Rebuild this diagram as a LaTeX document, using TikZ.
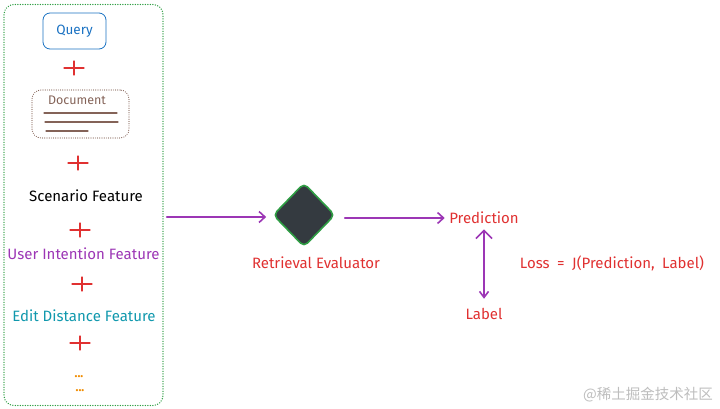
\documentclass[tikz,border=0pt]{standalone}
\usepackage{fontspec}
\setmainfont{Fira Sans}
\newfontfamily\cjkfont{Noto Sans CJK SC}
\usetikzlibrary{arrows.meta,shapes.geometric,positioning}
\definecolor{queryblue}{HTML}{1971C2}
\definecolor{docbrown}{HTML}{846358}
\definecolor{boxgreen}{HTML}{2F9E44}
\definecolor{plusred}{HTML}{E03131}
\definecolor{flowpurple}{HTML}{9C36B5}
\definecolor{featteal}{HTML}{1098AD}
\definecolor{dotorange}{HTML}{F08C00}
\definecolor{evalgray}{HTML}{343A40}
\definecolor{markgray}{HTML}{BDBDBD}
\tikzset{
  every picture/.style={
    line join=round,
    line cap=round,
  },
  every node/.style={font=\fontsize{15}{17}\selectfont},
  featurebox/.style={draw=boxgreen, line width=1.4pt, dash pattern=on 0.1pt off 2.4pt,
    rounded corners=10pt, inner sep=0pt},
  querybox/.style={draw=queryblue, line width=0.8pt, rounded corners=7pt,
    minimum width=63, minimum height=36, text=queryblue, font=\fontsize{13.5}{15}\selectfont},
  docbox/.style={draw=docbrown, line width=1.1pt, dash pattern=on 0.1pt off 2.1pt,
    rounded corners=9pt, minimum width=97, minimum height=48, inner sep=0pt},
  docline/.style={docbrown, line width=1.3pt},
  plusmark/.style={plusred, line width=1.3pt},
  flow/.style={flowpurple, line width=1.6pt},
  evaluator/.style={diamond, fill=evalgray, draw=boxgreen, line width=1.6pt,
    rounded corners=5pt, minimum width=62, minimum height=64, inner sep=0pt},
  moredots/.style={text=dotorange, anchor=base, font=\bfseries\fontsize{12}{14}\selectfont},
}

\begin{document}
\begin{tikzpicture}[x=1pt, y=-1pt, >={Straight Barb[length=6pt,width=11pt]}]
    \useasboundingbox (0,0) rectangle (720,409);

    % Feature container
    \node[featurebox, minimum width=159, minimum height=401] (features) at (83.5,205) {};

    % Query and document
    \node[querybox] (query) at (74.5,31) {Query};
    \node[docbox] (document) at (80.5,114) {};
    \node[text=docbrown, font=\fontsize{12.5}{14}\selectfont] (doctitle) at (77,100) {Document};
    \foreach \ya/\xa/\xb in {113/44/117, 122/45/118, 131/46/88} {
        \draw[docline] (\xa,\ya) -- (\xb,\ya);
    }

    % Feature labels
    \node[text=black] (scenario) at (86,196) {Scenario Feature};
    \node[text=flowpurple] (intention) at (83.5,254) {User Intention Feature};
    \node[text=featteal] (editdist) at (84,316) {Edit Distance Feature};
    \node[moredots] (dotsa) at (79,377) {...};
    \node[moredots] (dotsb) at (80,391) {...};

    % Plus signs between the inputs
    \foreach \px/\py in {74/68, 78/163, 80/230, 82/284, 80/343} {
        \draw[plusmark] (\px-10,\py) -- (\px+10,\py) (\px,\py-7) -- (\px,\py+7);
    }

    % Evaluator and outputs
    \node[evaluator] (evaluator) at (304,215) {};
    \node[text=plusred] (evalname) at (316,263) {Retrieval Evaluator};
    \node[text=plusred] (prediction) at (484,218) {Prediction};
    \node[text=plusred] (label) at (484,314) {Label};
    \node[text=plusred] (loss) at (612,263) {Loss\hspace{0.5em}=\hspace{0.5em}J(Prediction,\hspace{0.5em}Label)};
    \node[text=markgray, font=\cjkfont\fontsize{14.5}{16}\selectfont] (watermark) at (648,395) {@稀土掘金技术社区};

    % Connectors
    \draw[flow, ->, shorten <=3pt, shorten >=6pt] ([yshift=-2pt]features.east |- evaluator.west) -- ([yshift=-2pt]evaluator.west);
    \draw[flow, ->, shorten <=9pt, shorten >=1pt] (evaluator.east |- prediction.west) -- (prediction.west);
    \draw[flow, {Straight Barb[length=8pt,width=16pt]}-{Straight Barb[length=6pt,width=9pt]},
        shorten <=2pt, shorten >=6pt] (prediction.south) -- (label.north);
\end{tikzpicture}
\end{document}
